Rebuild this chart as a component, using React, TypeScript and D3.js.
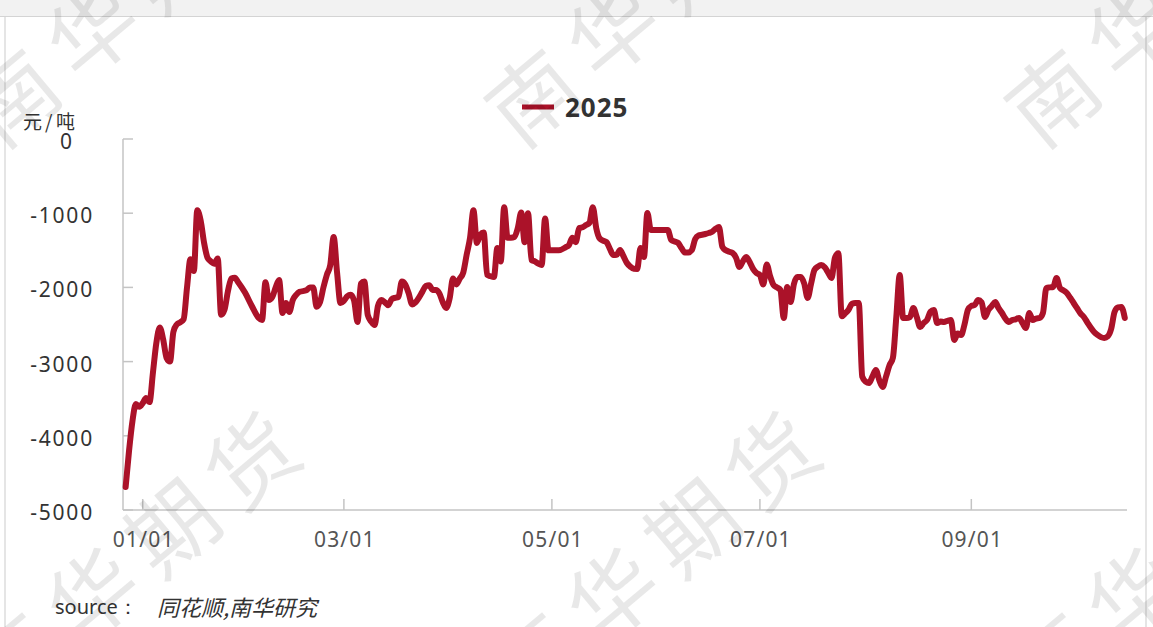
import React from "react";
import * as d3 from "d3";

const seriesName = "2025";
const unitLabel = "元/吨";
const sourceLabel = "source：";
const sourceText = "同花顺,南华研究";
const yTicks = [0, -1000, -2000, -3000, -4000, -5000];
const watermarkText = "南华期货";

const dates = [
  "2024-12-27","2024-12-28","2024-12-29","2024-12-30","2024-12-31",
  "2025-01-01","2025-01-02","2025-01-03","2025-01-04","2025-01-05","2025-01-06","2025-01-07","2025-01-08","2025-01-09","2025-01-10",
  "2025-01-11","2025-01-12","2025-01-13","2025-01-14","2025-01-15","2025-01-16","2025-01-17","2025-01-18","2025-01-19","2025-01-20",
  "2025-01-21","2025-01-22","2025-01-23","2025-01-24","2025-01-25","2025-01-26","2025-01-27","2025-01-28","2025-01-29","2025-01-31",
  "2025-02-02","2025-02-04","2025-02-05","2025-02-06","2025-02-07","2025-02-08","2025-02-09","2025-02-10","2025-02-11","2025-02-12",
  "2025-02-13","2025-02-14","2025-02-15","2025-02-16","2025-02-18","2025-02-19","2025-02-20","2025-02-21","2025-02-22","2025-02-23",
  "2025-02-24","2025-02-25","2025-02-26","2025-02-27","2025-02-28",
  "2025-03-01","2025-03-02","2025-03-03","2025-03-04","2025-03-05","2025-03-06","2025-03-07","2025-03-08","2025-03-09","2025-03-10",
  "2025-03-11","2025-03-12","2025-03-13","2025-03-14","2025-03-15","2025-03-16","2025-03-17","2025-03-18","2025-03-19","2025-03-20",
  "2025-03-21","2025-03-22","2025-03-24","2025-03-25","2025-03-26","2025-03-27","2025-03-28","2025-03-29","2025-03-30","2025-03-31",
  "2025-04-01","2025-04-02","2025-04-03","2025-04-04","2025-04-05","2025-04-06","2025-04-07","2025-04-08","2025-04-09","2025-04-10",
  "2025-04-11","2025-04-12","2025-04-13","2025-04-14","2025-04-15","2025-04-16","2025-04-17","2025-04-18","2025-04-19","2025-04-20",
  "2025-04-21","2025-04-22","2025-04-23","2025-04-24","2025-04-25","2025-04-26","2025-04-27","2025-04-28","2025-04-29","2025-04-30",
  "2025-05-01","2025-05-03","2025-05-05","2025-05-06","2025-05-07","2025-05-08","2025-05-09","2025-05-10","2025-05-11","2025-05-12",
  "2025-05-13","2025-05-14","2025-05-15","2025-05-16","2025-05-17","2025-05-18","2025-05-19","2025-05-20","2025-05-21","2025-05-22",
  "2025-05-23","2025-05-24","2025-05-25","2025-05-26","2025-05-27","2025-05-28","2025-05-29","2025-05-30","2025-05-31",
  "2025-06-02","2025-06-03","2025-06-04","2025-06-05","2025-06-06","2025-06-07","2025-06-08","2025-06-09","2025-06-10","2025-06-11",
  "2025-06-12","2025-06-13","2025-06-14","2025-06-15","2025-06-16","2025-06-17","2025-06-18","2025-06-19","2025-06-20","2025-06-21",
  "2025-06-22","2025-06-23","2025-06-24","2025-06-25","2025-06-26","2025-06-27","2025-06-28","2025-06-29","2025-06-30",
  "2025-07-01","2025-07-02","2025-07-03","2025-07-04","2025-07-05","2025-07-06","2025-07-07","2025-07-08","2025-07-09","2025-07-10",
  "2025-07-11","2025-07-12","2025-07-13","2025-07-14","2025-07-15","2025-07-16","2025-07-17","2025-07-18","2025-07-19","2025-07-20",
  "2025-07-21","2025-07-22","2025-07-23","2025-07-24","2025-07-25","2025-07-26","2025-07-27","2025-07-28","2025-07-29","2025-07-30",
  "2025-07-31",
  "2025-08-01","2025-08-02","2025-08-03","2025-08-04","2025-08-05","2025-08-06","2025-08-07","2025-08-08","2025-08-09","2025-08-10",
  "2025-08-11","2025-08-12","2025-08-13","2025-08-14","2025-08-15","2025-08-16","2025-08-17","2025-08-18","2025-08-19","2025-08-20",
  "2025-08-21","2025-08-22","2025-08-23","2025-08-24","2025-08-25","2025-08-26","2025-08-27","2025-08-28","2025-08-29","2025-08-30",
  "2025-08-31",
  "2025-09-01","2025-09-02","2025-09-03","2025-09-04","2025-09-05","2025-09-06","2025-09-07","2025-09-08","2025-09-09","2025-09-10",
  "2025-09-11","2025-09-12","2025-09-13","2025-09-14","2025-09-15","2025-09-16","2025-09-17","2025-09-18","2025-09-19","2025-09-20",
  "2025-09-21","2025-09-22","2025-09-23","2025-09-24","2025-09-25","2025-09-26","2025-09-27","2025-09-28","2025-09-29","2025-09-30",
  "2025-10-01","2025-10-02","2025-10-03","2025-10-04","2025-10-05","2025-10-06","2025-10-07","2025-10-08","2025-10-09","2025-10-10",
  "2025-10-11","2025-10-12","2025-10-13","2025-10-14","2025-10-15","2025-10-16",
];

const values = [
  -4690,-4200,-3800,-3570,-3610,
  -3560,-3490,-3545,-3150,-2750,-2540,-2700,-2950,-3000,-2600,
  -2500,-2470,-2430,-2000,-1620,-1780,-960,-1100,-1400,-1600,
  -1650,-1680,-1610,-2370,-2300,-2050,-1880,-1870,-1930,-2070,
  -2250,-2410,-2440,-1930,-2170,-2130,-2000,-1900,-2345,-2210,
  -2330,-2170,-2100,-2060,-2040,-2000,-2000,-2260,-2200,-2000,
  -1830,-1700,-1320,-1800,-2210,
  -2180,-2120,-2100,-2180,-2466,-1950,-1920,-2372,-2460,-2507,
  -2250,-2170,-2200,-2240,-2160,-2140,-2130,-1920,-1960,-2080,
  -2230,-2200,-2060,-1980,-1970,-2035,-2035,-2080,-2200,-2278,
  -2150,-1880,-1960,-1880,-1800,-1560,-1330,-960,-1400,-1290,
  -1260,-1830,-1850,-1860,-1470,-1650,-920,-1330,-1330,-1320,
  -1200,-990,-1390,-1000,-1630,-1650,-1680,-1698,-1070,-1500,
  -1500,-1500,-1460,-1430,-1330,-1390,-1200,-1190,-1160,-1130,
  -920,-1200,-1340,-1370,-1390,-1480,-1563,-1560,-1496,-1580,
  -1671,-1720,-1750,-1752,-1469,-1590,-997,-1226,-1226,
  -1226,-1226,-1226,-1361,-1380,-1400,-1470,-1530,-1530,-1500,
  -1350,-1300,-1290,-1280,-1267,-1250,-1210,-1186,-1455,-1500,
  -1520,-1536,-1600,-1725,-1650,-1590,-1658,-1750,-1806,
  -1833,-1960,-1690,-1850,-1968,-2000,-2035,-2412,-1995,-2197,
  -1950,-1860,-1860,-1950,-2143,-1950,-1765,-1720,-1698,-1730,
  -1800,-1873,-1600,-1540,-2390,-2350,-2300,-2220,-2210,-2210,
  -3200,
  -3270,-3288,-3200,-3113,-3250,-3342,-3200,-3050,-2950,-2400,
  -1833,-2412,-2412,-2400,-2278,-2400,-2534,-2480,-2440,-2330,
  -2305,-2480,-2460,-2466,-2450,-2440,-2709,-2620,-2641,-2500,
  -2300,
  -2250,-2237,-2170,-2200,-2399,-2305,-2250,-2197,-2280,-2345,
  -2420,-2466,-2440,-2430,-2412,-2480,-2547,-2345,-2440,-2420,
  -2412,-2345,-2008,-2000,-1995,-1873,-2008,-2040,-2076,-2140,
  -2210,-2280,-2350,-2399,-2470,-2540,-2601,-2640,-2670,-2682,
  -2660,-2560,-2332,-2270,-2264,-2412,
];

const W = 1153;
const H = 627;
const RED = "#ab1229";
const SANS = "'Noto Sans', 'Open Sans', sans-serif";
const CJK = "'Noto Sans CJK SC', 'Noto Sans', sans-serif";

export default function App() {
  const parse = d3.utcParse("%Y-%m-%d");
  const data = dates.map((d, i) => ({ date: parse(d) as Date, value: values[i] }));

  const x = d3
    .scaleUtc()
    .domain([parse("2025-01-01") as Date, parse("2025-10-16") as Date])
    .range([142.7, 142.7 + 288 * 3.41]);
  const y = d3.scaleLinear().domain([-5000, 0]).range([510, 139]);

  const line = d3
    .line<{ date: Date; value: number }>()
    .x((d) => x(d.date))
    .y((d) => y(d.value))
    .curve(d3.curveMonotoneX);

  const xTicks = x.ticks(d3.utcMonth.every(2) as any);
  const fmt = d3.utcFormat("%m/%d");

  const axisLeft = 123;
  const axisRight = 1127;
  const axisBottom = y(-5000);
  const axisTop = y(0);

  const wmCenters: [number, number][] = [];
  [-12, 552].forEach((cy) => {
    [135, 655, 1175].forEach((cx) => wmCenters.push([cx, cy]));
  });

  return (
    <svg
      width={W}
      height={H}
      viewBox={`0 0 ${W} ${H}`}
      style={{ position: "absolute", left: 0, top: 0, background: "#fff" }}
    >
      {/* panel frame */}
      <rect x={0} y={0} width={W} height={16.5} fill="#f2f2f2" />
      <line x1={0} x2={W} y1={16.5} y2={16.5} stroke="#d4d4d4" strokeWidth={1} />
      <line x1={5} x2={5} y1={17} y2={H} stroke="#dcdcdc" strokeWidth={1.5} />
      <line x1={1146} x2={1146} y1={17} y2={H} stroke="#dcdcdc" strokeWidth={1.5} />

      {/* legend */}
      <line x1={522} x2={554} y1={107} y2={107} stroke={RED} strokeWidth={5} />
      <text
        x={565}
        y={107}
        dominantBaseline="central"
        fontFamily={SANS}
        fontWeight="bold"
        fontSize={26}
        letterSpacing={1}
        fill="#333"
      >
        {seriesName}
      </text>

      {/* unit */}
      <text y={120} dominantBaseline="central" fontFamily={CJK} fontSize={19} fill="#333">
        <tspan x={23}>{unitLabel.charAt(0)}</tspan>
        <tspan x={45}>{unitLabel.charAt(1)}</tspan>
        <tspan x={56}>{unitLabel.charAt(2)}</tspan>
      </text>

      {/* y axis */}
      <line x1={axisLeft} x2={axisLeft} y1={axisTop} y2={axisBottom} stroke="#c4c4c4" strokeWidth={1.5} />
      {yTicks.map((t) => (
        <g key={t}>
          <line x1={axisLeft} x2={axisLeft + 10} y1={y(t)} y2={y(t)} stroke="#c4c4c4" strokeWidth={1.5} />
          <text
            x={t === 0 ? 66 : 94}
            y={y(t) + 2}
            textAnchor={t === 0 ? "middle" : "end"}
            dominantBaseline="central"
            fontFamily={SANS}
            fontSize={21}
            letterSpacing={t === 0 ? 0 : 1.8}
            fill="#333"
          >
            {t === 0 ? "0" : "-" + String(Math.abs(t))}
          </text>
        </g>
      ))}

      {/* x axis */}
      <line x1={axisLeft} x2={axisRight} y1={axisBottom} y2={axisBottom} stroke="#c4c4c4" strokeWidth={1.5} />
      {xTicks.map((t) => (
        <g key={t.toISOString()}>
          <line x1={x(t)} x2={x(t)} y1={axisBottom} y2={axisBottom - 11} stroke="#c4c4c4" strokeWidth={1.5} />
          <text
            x={x(t) + 1}
            y={539}
            textAnchor="middle"
            dominantBaseline="central"
            fontFamily={SANS}
            fontSize={21}
            letterSpacing={1.2}
            fill="#555"
          >
            {fmt(t)}
          </text>
        </g>
      ))}

      {/* series */}
      <path
        d={line(data) || ""}
        fill="none"
        stroke={RED}
        strokeWidth={6}
        strokeLinejoin="round"
        strokeLinecap="round"
      />

      {/* source */}
      <text y={606} dominantBaseline="central" fill="#333">
        <tspan x={55} fontFamily={SANS} fontSize={20}>
          {sourceLabel}
        </tspan>
        <tspan x={157} fontFamily={CJK} fontSize={22} fontStyle="italic">
          {sourceText}
        </tspan>
      </text>

      {/* watermark */}
      <g pointerEvents="none">
        {wmCenters.map(([cx, cy], i) => (
          <text
            key={i}
            transform={`translate(${cx},${cy}) rotate(-40)`}
            textAnchor="middle"
            dominantBaseline="central"
            fontFamily={CJK}
            fontSize={88}
            letterSpacing={16}
            fill="#000"
            fillOpacity={0.09}
          >
            {watermarkText}
          </text>
        ))}
      </g>
    </svg>
  );
}
